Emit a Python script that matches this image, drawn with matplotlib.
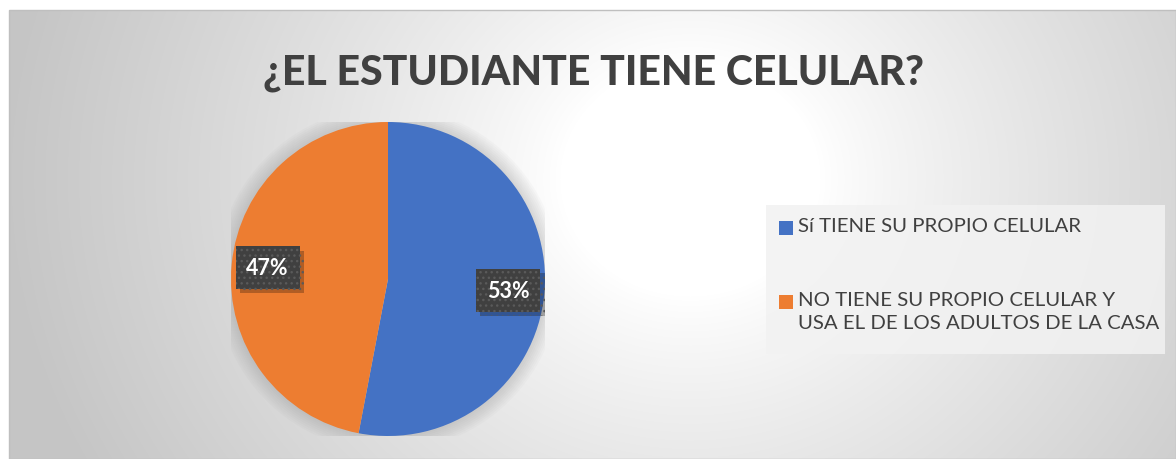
import numpy as np
import matplotlib
matplotlib.use("Agg")
import matplotlib.pyplot as plt
from matplotlib.patches import Rectangle, Circle
import matplotlib.patheffects as pe

# ---- data ----
title = "¿EL ESTUDIANTE TIENE CELULAR?"
categories = ["Sí TIENE SU PROPIO CELULAR",
              "NO TIENE SU PROPIO CELULAR Y\nUSA EL DE LOS ADULTOS DE LA CASA"]
values = [53, 47]
colors = ["#4472C4", "#ED7D31"]

W, H = 1176, 460
DPI = 100
fig = plt.figure(figsize=(W / DPI, H / DPI), dpi=DPI, facecolor="white")

def fx(x):
    return x / W

def fy(y):
    return 1 - y / H

# ---- background gradient (chart area) ----
x0, y0 = 9, 11
bg = fig.add_axes([fx(x0), 0, 1 - fx(x0), fy(y0)])
xs = np.arange(x0, W)
ys = np.arange(y0, H)
X, Y = np.meshgrid(xs, ys)
cx, cy = 690, 180
d = np.sqrt(((X - cx) / 1.0) ** 2 + ((Y - cy) / 0.9) ** 2)
t = np.clip((d - 130) / 560, 0, 1) ** 0.85
val = 255 - 58 * t
img = np.dstack([val, val, val]) / 255.0
bg.imshow(img, aspect="auto", extent=[0, 1, 0, 1], interpolation="bilinear")
bg.set_axis_off()
fig.add_artist(Rectangle((fx(x0), 0), 1 - fx(x0), fy(y0), transform=fig.transFigure,
                         fill=False, edgecolor="#bfbfbf", linewidth=1.0, zorder=1))

# ---- title ----
fig.text(fx(594), fy(73), title, ha="center", va="center", fontsize=29.5,
         fontweight="black", family="Lato", color="#404040")

# ---- pie ----
pcx, pcy, r = 388, 280, 157
ax = fig.add_axes([fx(pcx - r), fy(pcy + r), 2 * r / W, 2 * r / H])
ax.set_axis_off()
for k in range(8):
    ax.add_patch(Circle((0, 0.0), 1.0 + 0.012 * (k + 1), color="#7f7f7f",
                        alpha=0.035, zorder=0, linewidth=0))
wedges, texts, autotexts = ax.pie(values, colors=colors, startangle=90,
                                  counterclock=False,
                                  autopct=lambda p: f"{round(p)}%",
                                  pctdistance=0.77, radius=1.0,
                                  wedgeprops=dict(linewidth=0))
ax.set_xlim(-1.0, 1.0)
ax.set_ylim(-1.0, 1.0)
for at in autotexts:
    at.set_color("white")
    at.set_fontsize(15.5)
    at.set_fontweight("bold")
    at.set_family("Lato")
    at.set_bbox(dict(boxstyle="square,pad=0.5", facecolor="#404040",
                     edgecolor="#5a5a5a", linewidth=0, hatch="..."))
    at.get_bbox_patch().set_path_effects(
        [pe.SimplePatchShadow(offset=(3, -3), shadow_rgbFace="#000000", alpha=0.25),
         pe.Normal()])

# ---- legend (manual) ----
fig.add_artist(Rectangle((fx(766), fy(355)), fx(1165) - fx(766), fy(206) - fy(355),
                         transform=fig.transFigure, facecolor="#f2f2f2",
                         edgecolor="none", alpha=0.85, zorder=2))
entry_top = [222, 296]
for yt, lab, c in zip(entry_top, categories, colors):
    fig.add_artist(Rectangle((fx(779), fy(yt + 14)), 14 / W, 14 / H,
                             transform=fig.transFigure, facecolor=c,
                             edgecolor="none", zorder=3))
    fig.text(fx(798), fy(yt - 3.5), lab, ha="left", va="top", fontsize=14.7,
             family="Lato", color="#404040", linespacing=1.38, zorder=3)

fig.savefig("out.png", dpi=DPI, facecolor="white")
